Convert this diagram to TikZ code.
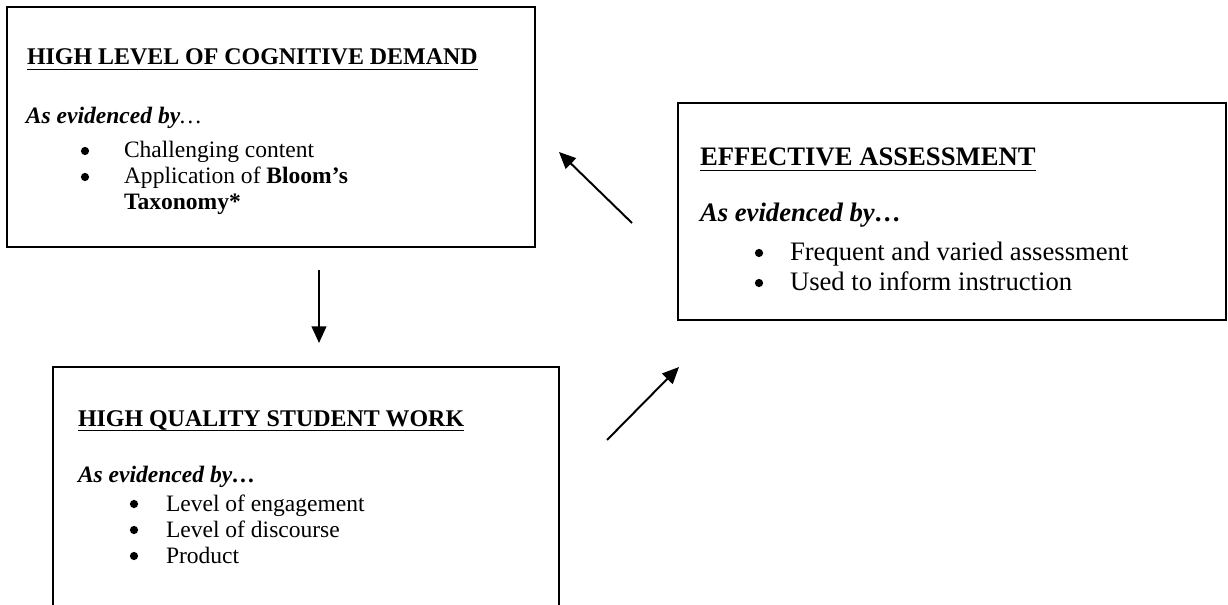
\documentclass[tikz,border=0pt]{standalone}
\usepackage{fontspec}
\setmainfont{Liberation Serif}
\usetikzlibrary{arrows.meta,fit}
\begin{document}
\begin{tikzpicture}[x=0.51pt,y=-0.51pt,
  box/.style={draw=black,line width=1pt,inner sep=0pt,fill=none},
  txt/.style={anchor=base west,inner sep=0pt,outer sep=0pt,font=\fontsize{12pt}{13.8pt}\selectfont},
  ttl/.style={txt,font=\fontsize{12.2pt}{14pt}\selectfont\bfseries},
  bul/.style={circle,fill=black,draw=none,inner sep=0pt,minimum size=4.2pt},
  btxt/.style={anchor=base west,inner sep=0pt,outer sep=0pt,font=\fontsize{13.6pt}{15.6pt}\selectfont},
  bttl/.style={btxt,font=\fontsize{13.6pt}{15.6pt}\selectfont\bfseries},
  uline/.style={line width=0.75pt},
  arr/.style={line width=1pt,-{Triangle[length=8.5pt,width=7.5pt]}}]
\useasboundingbox (0,0) rectangle (1228,605);
\fill[white] (0,0) rectangle (1228,605);
% boxes
\node (b1) [box,fit={(7,7) (535,247)}] {};
\node (b2) [box,fit={(678,103) (1226,320)}] {};
\node (b3) [box,fit={(53,367) (559,625)}] {};
% box 1
\node (t1) [ttl] at (27,65) {HIGH LEVEL OF COGNITIVE DEMAND};
\draw[uline] ([yshift=-2.2pt]t1.base west) -- ([yshift=-2.2pt]t1.base east);
\node (e1) [txt] at (26,124) {\textbf{\textit{As evidenced by}}\textit{…}};
\node (p11) [bul] at (85,151) {};
\node (l11) [txt] at (124,158) {Challenging content};
\node (p12) [bul] at (85,177) {};
\node (l12) [txt] at (124,184) {Application of \textbf{Bloom’s}};
\node (l13) [txt] at (124,210) {\textbf{Taxonomy*}};
% box 2
\node (t2) [bttl] at (700,166) {EFFECTIVE ASSESSMENT};
\draw[uline] ([yshift=-2.4pt]t2.base west) -- ([yshift=-2.4pt]t2.base east);
\node (e2) [btxt] at (700,222) {\textbf{\textit{As evidenced by…}}};
\node (p21) [bul] at (759,253) {};
\node (l21) [btxt] at (790,261) {Frequent and varied assessment};
\node (p22) [bul] at (759,283) {};
\node (l22) [btxt] at (790,291) {Used to inform instruction};
% box 3
\node (t3) [ttl] at (78,426) {HIGH QUALITY STUDENT WORK};
\draw[uline] ([yshift=-2.2pt]t3.base west) -- ([yshift=-2.2pt]t3.base east);
\node (e3) [txt] at (78,482) {\textbf{\textit{As evidenced by…}}};
\node (p31) [bul] at (134,504) {};
\node (l31) [txt] at (166,511) {Level of engagement};
\node (p32) [bul] at (134,530) {};
\node (l32) [txt] at (166,537) {Level of discourse};
\node (p33) [bul] at (134,556) {};
\node (l33) [txt] at (166,563) {Product};
% arrows
\coordinate (a1s) at (319,270);
\coordinate (a1e) at (319,343);
\coordinate (a2s) at (632,223);
\coordinate (a2e) at (559,152);
\coordinate (a3s) at (607,440);
\coordinate (a3e) at (679,367);
\draw[arr] (a1s) -- (a1e);
\draw[arr] (a2s) -- (a2e);
\draw[arr] (a3s) -- (a3e);
\end{tikzpicture}
\end{document}
